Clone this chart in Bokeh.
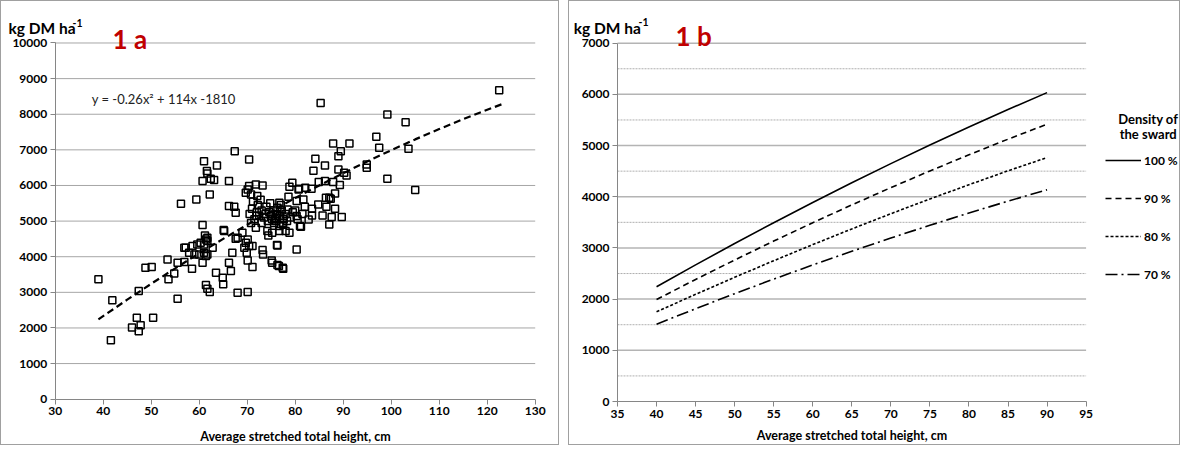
from bokeh.plotting import figure
from bokeh.models import Label, Legend, LegendItem, SingleIntervalTicker, LinearAxis
from bokeh.layouts import row
from bokeh.embed import file_html
from bokeh.resources import INLINE

FONT = "Lato"

# ---------------- Data: panel 1a ----------------
height_obs = [
    39.0, 41.9, 41.6, 46.0, 47.0, 47.8, 47.4, 47.4, 48.8, 50.1,
    50.4, 53.4, 53.6, 54.8, 55.5, 55.5, 56.2, 56.9, 56.9, 57.2,
    57.9, 58.5, 58.6, 59.0, 59.4, 59.6, 60.0, 60.3, 60.7, 60.7,
    60.7, 61.0, 61.0, 61.0, 61.2, 61.4, 61.4, 61.4, 61.6, 61.7,
    61.7, 61.7, 61.7, 61.7, 62.2, 62.2, 62.4, 62.8, 63.1, 63.5,
    63.7, 64.9, 65.0, 65.1, 65.2, 66.2, 66.2, 66.2, 66.6, 66.9,
    67.3, 67.4, 67.6, 67.6, 68.0, 68.0, 69.0, 69.4, 69.7, 69.7,
    69.9, 70.1, 70.1, 70.1, 70.1, 70.4, 70.4, 70.4, 70.8, 71.1,
    71.1, 71.8, 71.8, 72.1, 73.2, 73.2, 73.3, 74.2, 74.4, 75.1,
    75.2, 75.2, 76.2, 76.3, 76.3, 76.6, 76.7, 77.4, 77.5, 78.0,
    78.8, 78.8, 79.4, 80.3, 80.7, 80.8, 81.0, 81.2, 81.7, 82.1,
    82.8, 83.4, 83.5, 83.5, 83.8, 84.2, 84.8, 84.9, 85.3, 85.7,
    86.2, 86.2, 86.4, 86.5, 87.1, 87.1, 87.4, 87.6, 87.9, 87.9,
    88.3, 88.3, 89.0, 89.0, 89.3, 89.5, 89.7, 90.2, 90.7, 91.3,
    94.9, 94.9, 96.9, 97.5, 99.2, 99.2, 103.0, 103.6, 105.0, 122.5,
    78.6, 80.3, 80.3, 78.4, 76.7, 76.3, 76.0, 77.4, 76.7, 70.5,
    71.0, 71.5, 72.0, 72.5, 73.0, 73.5, 73.8, 74.0, 74.3, 74.6,
    75.0, 75.4, 75.8, 76.2, 76.8, 77.2, 77.6, 78.0, 72.2, 73.0,
    74.8, 75.6, 77.0, 71.2, 72.8, 70.8, 71.9, 75.2, 76.0, 77.5,
    78.3, 79.0, 79.5, 80.0, 81.5, 82.0, 80.5,
]
yield_obs = [
    3364, 2776, 1654, 2010, 2290, 2075, 1906, 3039, 3692, 3712,
    2290, 3925, 3364, 3532, 3832, 2823, 5486, 3852, 4253, 4253,
    4113, 3664, 4300, 4065, 5607, 4345, 4065, 4393, 3832, 4889,
    6123, 4345, 4113, 6683, 4598, 4486, 4020, 3207, 6403, 6336,
    4533, 4441, 4065, 3103, 3011, 5747, 6187, 4253, 6151, 3552,
    6560, 3412, 3224, 4749, 4721, 3832, 6123, 5422, 3600, 4113,
    5402, 6964, 5234, 4505, 4533, 2991, 4673, 4253, 4393, 5795,
    4113, 4486, 3897, 3011, 5887, 4300, 6729, 5983, 5747, 4300,
    3712, 6027, 4814, 5702, 5999, 4188, 4065, 4721, 4598, 3897,
    4672, 3832, 4328, 3768, 4317, 3740, 4721, 3692, 3664, 4721,
    4673, 5963, 6075, 4205, 5887, 5907, 4861, 4842, 5607, 5935,
    5046, 5907, 5346, 5158, 6412, 6748, 5467, 6095, 8318, 5158,
    6123, 6560, 5655, 5402, 5655, 4906, 5627, 5113, 6095, 7177,
    5775, 5346, 6824, 6448, 6011, 6964, 5113, 6356, 6280, 7177,
    6588, 6496, 7365, 7056, 7990, 6187, 7777, 7028, 5870, 8674,
    5683, 5562, 5141, 5327, 5514, 5374, 5094, 4954, 4861, 5200,
    5350, 5050, 5250, 5150, 5300, 5100, 5200, 5400, 5000, 5250,
    5150, 5300, 5050, 5200, 5150, 5300, 5050, 5200, 5450, 4950,
    5500, 4950, 5450, 5550, 5600, 4950, 5150, 5050, 5000, 4900,
    5000, 5100, 5250, 5300, 5200, 5400, 5050,
]
# trend line (y = -0.26x^2 + 114x - 1810)
trend_x = [39, 45, 50, 55, 60, 65, 70, 75, 80, 85, 90, 95, 100, 105, 110, 115, 120, 123]
trend_y = [2240, 2794, 3240, 3674, 4094, 4502, 4896, 5278, 5646, 6002, 6344, 6674,
           6990, 7294, 7584, 7862, 8126, 8278]
grid_a = [1000, 2000, 3000, 4000, 5000, 6000, 7000, 8000, 9000, 10000]

# ---------------- Data: panel 1b ----------------
height_b = [40, 45, 50, 55, 60, 65, 70, 75, 80, 85, 90]
dens_100 = [2241, 2669, 3086, 3493, 3888, 4273, 4647, 5010, 5362, 5703, 6034]
dens_90 = [1993, 2384, 2764, 3134, 3493, 3840, 4178, 4504, 4819, 5124, 5417]
dens_80 = [1752, 2094, 2426, 2750, 3065, 3371, 3668, 3956, 4235, 4506, 4766]
dens_70 = [1510, 1813, 2106, 2391, 2667, 2934, 3193, 3442, 3682, 3914, 4136]
legend_labels = ["100 %", "90 %", "80 %", "70 %"]
grid_b_major = [1000, 2000, 3000, 4000, 5000, 6000, 7000]
grid_b_minor = [500, 1500, 2500, 3500, 4500, 5500, 6500]

AXIS_COLOR = "#868686"
BORDER = {"border": "1px solid #a0a0a0"}


def make_fig(width, xr, yr, xb, yb, xint, title_standoff):
    p = figure(width=width, height=445, x_range=xr, y_range=yr,
               output_backend="svg", toolbar_location=None, min_border=0,
               x_axis_location=None, y_axis_location=None, styles=BORDER)
    p.outline_line_color = None
    p.grid.grid_line_color = None
    xa = LinearAxis(fixed_location=yb[0], bounds=xb,
                    ticker=SingleIntervalTicker(interval=xint, num_minor_ticks=0))
    ya = LinearAxis(fixed_location=xb[0], bounds=yb,
                    ticker=SingleIntervalTicker(interval=1000, num_minor_ticks=0))
    for ax in (xa, ya):
        ax.axis_line_color = AXIS_COLOR
        ax.major_tick_line_color = AXIS_COLOR
        ax.minor_tick_line_color = None
        ax.major_tick_out = 5
        ax.major_tick_in = 0
        ax.major_label_text_font = FONT
        ax.major_label_text_font_style = "bold"
        ax.major_label_text_font_size = "12px"
        ax.major_label_text_color = "black"
        ax.major_label_standoff = 3
    xa.axis_label = "Average stretched total height, cm"
    xa.axis_label_text_font = FONT
    xa.axis_label_text_font_style = "bold"
    xa.axis_label_text_font_size = "12.5px"
    xa.axis_label_text_color = "black"
    xa.axis_label_standoff = title_standoff
    p.add_layout(xa, "below")
    p.add_layout(ya, "left")
    return p


def label(p, x, y, text, size, color="black", bold=True, align="left", baseline="alphabetic"):
    p.add_layout(Label(x=x, y=y, text=text, text_font=FONT,
                       text_font_style="bold" if bold else "normal",
                       text_font_size=size, text_color=color,
                       text_align=align, text_baseline=baseline))


# ---------------- Panel 1a ----------------
p1 = make_fig(559, (18.81, 135.27), (-1328, 11165), (30, 130), (0, 10000), 10, 10)
p1.segment(x0=30, x1=130, y0=grid_a, y1=grid_a, line_color="#a6a6a6", line_width=1)
p1.scatter(height_obs, yield_obs, marker="square", size=7, fill_color=None,
           line_color="black", line_width=1.5)
p1.line(trend_x, trend_y, line_color="black", line_width=2.2, line_dash="7 4")

label(p1, 20.27, 10435, "kg DM ha", "15.5px")
label(p1, 33.60, 10575, "-1", "10.5px")
label(p1, 41.94, 10107, "1 a", "26px", color="#C00000")
label(p1, 37.62, 8414, "y = -0.26x² + 114x -1810", "13px", color="#222222", bold=False)

# ---------------- Panel 1b ----------------
p2 = make_fig(612, (28.854, 107.215), (-879, 7814), (35, 95), (0, 7000), 5, 7)
p2.segment(x0=35, x1=95, y0=grid_b_minor, y1=grid_b_minor, line_color="#8c8c8c",
           line_width=0.7, line_dash="2 1")
p2.segment(x0=35, x1=95, y0=grid_b_major, y1=grid_b_major, line_color="#b4b4b4",
           line_width=1.5)

r100 = p2.line(height_b, dens_100, line_color="black", line_width=1.6)
r90 = p2.line(height_b, dens_90, line_color="black", line_width=1.6, line_dash="6 4")
r80 = p2.line(height_b, dens_80, line_color="black", line_width=1.6, line_dash="3 2")
r70 = p2.line(height_b, dens_70, line_color="black", line_width=1.6, line_dash="12 4 2 4")

legend = Legend(items=[LegendItem(label=lab, renderers=[r]) for lab, r in
                       zip(legend_labels, [r100, r90, r80, r70])],
                location=(536, 162), orientation="vertical",
                glyph_width=36, glyph_height=20, label_height=20, label_standoff=3,
                spacing=18, padding=0, margin=0,
                border_line_color=None, background_fill_color=None, background_fill_alpha=0,
                label_text_font=FONT, label_text_font_style="bold", label_text_font_size="12px",
                label_text_color="black")
p2.add_layout(legend)

label(p2, 29.40, 7306, "kg DM ha", "15.5px")
label(p2, 37.70, 7404, "-1", "10.5px")
label(p2, 42.43, 7144, "1 b", "26px", color="#C00000")
label(p2, 102.95, 5528, "Density of", "13px", align="center", baseline="middle")
label(p2, 102.95, 5222, "the sward", "13px", align="center", baseline="middle")

layout = row(p1, p2, spacing=9)
open("out.html", "w").write(file_html(layout, INLINE))
